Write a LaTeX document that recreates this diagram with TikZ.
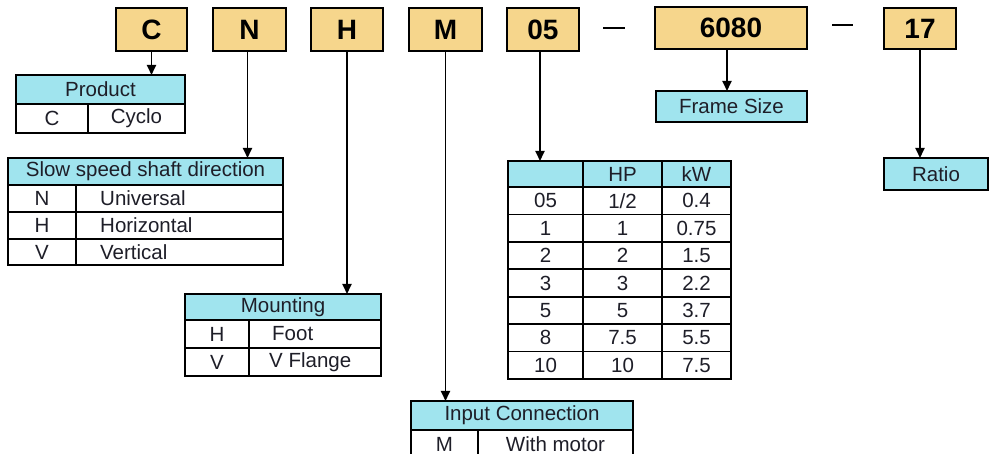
\documentclass[tikz,border=0pt]{standalone}
\usepackage{fontspec}
\setmainfont{Liberation Sans}
\usetikzlibrary{arrows.meta}
\definecolor{codefill}{RGB}{246,214,140}
\definecolor{headfill}{RGB}{160,228,238}
\definecolor{inktext}{RGB}{30,30,40}
\tikzset{
  codebox/.style={draw=black, line width=2.2pt, fill=codefill, inner sep=0pt, outer sep=0pt, anchor=north west, font=\fontsize{28}{30}\selectfont\bfseries},
  cell/.style={draw=black, line width=1.8pt, fill=white, inner sep=0pt, outer sep=0pt, anchor=north west, text=inktext, font=\fontsize{20.5}{22}\selectfont},
  headcell/.style={cell, fill=headfill},
  celltext/.style={inner sep=0pt, anchor=west, text=inktext, font=\fontsize{20.5}{22}\selectfont},
  conn/.style={line width=1.8pt, -{Triangle[length=10pt,width=9pt]}},
  dashline/.style={line width=2.2pt},
}
\newcommand\cellat[6]{\node[#1, minimum width=#4pt, minimum height=#5pt] (#2) at (#3) {#6};}
\begin{document}
\begin{tikzpicture}[x=1pt,y=-1pt]
\useasboundingbox (0,0) rectangle (989,454);
% code boxes
\cellat{codebox}{cC}{116,8}{71}{43}{C}
\cellat{codebox}{cN}{213,8}{73}{43}{N}
\cellat{codebox}{cH}{311,8}{72}{43}{H}
\cellat{codebox}{cM}{409,8}{73}{43}{M}
\cellat{codebox}{c05}{507,8}{72}{43}{05}
\cellat{codebox}{c6080}{655,7}{152}{42}{6080}
\cellat{codebox}{c17}{884,8}{72}{41}{17}
\coordinate (d1a) at (603,28); \coordinate (d1b) at (625,28);
\coordinate (d2a) at (832,25); \coordinate (d2b) at (853,25);
\draw[dashline] (d1a) -- (d1b);
\draw[dashline] (d2a) -- (d2b);
% Product
\cellat{headcell}{prodhead}{16,75}{169}{29}{Product}
\cellat{cell}{prodc}{16,104}{72}{29}{C}
\cellat{cell}{prodcyclo}{88,104}{97}{29}{Cyclo}
% Slow speed shaft direction
\cellat{headcell}{slowhead}{8,158}{275}{27}{Slow speed shaft direction}
\cellat{cell}{slowNa}{8,185}{68}{27}{N}
\cellat{cell}{slowNb}{76,185}{207}{27}{}
\cellat{cell}{slowHa}{8,212}{68}{27}{H}
\cellat{cell}{slowHb}{76,212}{207}{27}{}
\cellat{cell}{slowVa}{8,239}{68}{26}{V}
\cellat{cell}{slowVb}{76,239}{207}{26}{}
\node[celltext] (tuniv) at ([xshift=24pt]slowNb.west) {Universal};
\node[celltext] (thoriz) at ([xshift=24pt]slowHb.west) {Horizontal};
\node[celltext] (tvert) at ([xshift=24pt]slowVb.west) {Vertical};
% Mounting
\cellat{headcell}{mounthead}{185,294}{196}{26}{Mounting}
\cellat{cell}{mountHa}{185,320}{64}{28}{H}
\cellat{cell}{mountHb}{249,320}{132}{28}{}
\cellat{cell}{mountVa}{185,348}{64}{28}{V}
\cellat{cell}{mountVb}{249,348}{132}{28}{}
\node[celltext] (tfoot) at ([xshift=23pt]mountHb.west) {Foot};
\node[celltext] (tflange) at ([xshift=20pt]mountVb.west) {V Flange};
% Power table
\cellat{headcell}{hphead0}{508,161}{75}{26}{}
\cellat{headcell}{hphead1}{583,161}{79}{26}{HP}
\cellat{headcell}{hphead2}{662,161}{69}{26}{kW}
\foreach \a/\b/\c [count=\i] in {05/{1/2}/0.4, 1/1/0.75, 2/2/1.5, 3/3/2.2, 5/5/3.7, 8/7.5/5.5, 10/10/7.5}{
  \pgfmathsetmacro\yy{187+(\i-1)*27.43}
  \cellat{cell}{hpa\i}{508,\yy}{75}{27.43}{\a}
  \cellat{cell}{hpb\i}{583,\yy}{79}{27.43}{\b}
  \cellat{cell}{hpc\i}{662,\yy}{69}{27.43}{\c}
}
% Input connection
\cellat{headcell}{inhead}{411,401}{222}{29}{Input Connection}
\cellat{cell}{inM}{411,430}{67}{28}{M}
\cellat{cell}{inmotor}{478,430}{155}{28}{With motor}
% Frame size and ratio
\cellat{headcell}{frame}{656,91}{151}{31}{Frame Size}
\cellat{headcell}{ratio}{884,158}{104}{32}{Ratio}
% connectors
\draw[conn] (cC.south) -- (cC.south |- prodhead.north);
\draw[conn] ([xshift=-2pt]cN.south) -- ([xshift=-2pt]cN.south |- slowhead.north);
\draw[conn] (cH.south) -- (cH.south |- mounthead.north);
\draw[conn] (cM.south) -- (cM.south |- inhead.north);
\draw[conn] ([xshift=-3pt]c05.south) -- ([xshift=-3pt]c05.south |- hphead0.north);
\draw[conn] ([xshift=-4pt]c6080.south) -- ([xshift=-4pt]c6080.south |- frame.north);
\draw[conn] (c17.south) -- (c17.south |- ratio.north);
\end{tikzpicture}
\end{document}
